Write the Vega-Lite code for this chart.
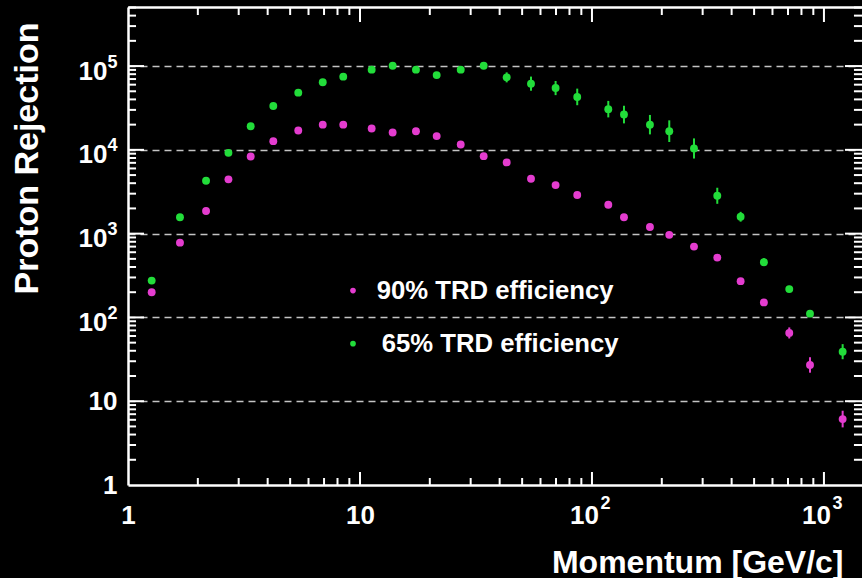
{
  "$schema": "https://vega.github.io/schema/vega-lite/v6.json",
  "width": 734,
  "height": 478,
  "autosize": {"type": "none"},
  "padding": {"left": 128, "top": 7, "right": 0, "bottom": 93},
  "background": "#000000",
  "config": {
    "view": {"stroke": null},
    "font": "Liberation Sans",
    "axis": {
      "domainColor": "#ffffff",
      "domainWidth": 2.5,
      "labelColor": "#ffffff",
      "titleColor": "#ffffff",
      "labelFont": "Liberation Sans",
      "titleFont": "Liberation Sans",
      "labelFontWeight": "bold",
      "titleFontWeight": "bold",
      "labelFontSize": 26,
      "labelFlush": false,
      "labelOverlap": false,
      "ticks": false,
      "grid": false,
      "title": null
    },
    "text": {"font": "Liberation Sans"}
  },
  "datasets": {
    "rejection": [
      {"p": 1.265, "rej": 200, "eff": "90% TRD efficiency"},
      {"p": 1.675, "rej": 781, "eff": "90% TRD efficiency"},
      {"p": 2.17, "rej": 1862, "eff": "90% TRD efficiency"},
      {"p": 2.71, "rej": 4450, "eff": "90% TRD efficiency"},
      {"p": 3.38, "rej": 8340, "eff": "90% TRD efficiency"},
      {"p": 4.23, "rej": 12700, "eff": "90% TRD efficiency"},
      {"p": 5.42, "rej": 17000, "eff": "90% TRD efficiency"},
      {"p": 6.91, "rej": 20000, "eff": "90% TRD efficiency"},
      {"p": 8.47, "rej": 20000, "eff": "90% TRD efficiency"},
      {"p": 11.23, "rej": 18000, "eff": "90% TRD efficiency"},
      {"p": 13.83, "rej": 16100, "eff": "90% TRD efficiency"},
      {"p": 17.43, "rej": 16700, "eff": "90% TRD efficiency"},
      {"p": 21.41, "rej": 14600, "eff": "90% TRD efficiency"},
      {"p": 27.18, "rej": 11600, "eff": "90% TRD efficiency"},
      {"p": 34.14, "rej": 8410, "eff": "90% TRD efficiency"},
      {"p": 42.89, "rej": 7080, "eff": "90% TRD efficiency"},
      {"p": 54.6, "rej": 4520, "eff": "90% TRD efficiency"},
      {"p": 69.7, "rej": 3800, "eff": "90% TRD efficiency"},
      {"p": 86.4, "rej": 2890, "eff": "90% TRD efficiency"},
      {"p": 117.6, "rej": 2210, "eff": "90% TRD efficiency"},
      {"p": 137.4, "rej": 1567, "eff": "90% TRD efficiency"},
      {"p": 177.8, "rej": 1202, "eff": "90% TRD efficiency"},
      {"p": 215.4, "rej": 967, "eff": "90% TRD efficiency"},
      {"p": 275.3, "rej": 700, "eff": "90% TRD efficiency"},
      {"p": 346.9, "rej": 518, "eff": "90% TRD efficiency"},
      {"p": 437.4, "rej": 271, "eff": "90% TRD efficiency"},
      {"p": 551, "rej": 151, "lo": 138, "hi": 165, "eff": "90% TRD efficiency"},
      {"p": 708.8, "rej": 65.3, "lo": 56.1, "hi": 76, "eff": "90% TRD efficiency"},
      {"p": 870.7, "rej": 27.1, "lo": 21.9, "hi": 33.5, "eff": "90% TRD efficiency"},
      {"p": 1204, "rej": 6.12, "lo": 4.87, "hi": 7.7, "eff": "90% TRD efficiency"},
      {"p": 1.265, "rej": 275, "eff": "65% TRD efficiency"},
      {"p": 1.675, "rej": 1567, "eff": "65% TRD efficiency"},
      {"p": 2.17, "rej": 4276, "eff": "65% TRD efficiency"},
      {"p": 2.71, "rej": 9210, "eff": "65% TRD efficiency"},
      {"p": 3.38, "rej": 19150, "eff": "65% TRD efficiency"},
      {"p": 4.23, "rej": 33400, "eff": "65% TRD efficiency"},
      {"p": 5.42, "rej": 48200, "eff": "65% TRD efficiency"},
      {"p": 6.91, "rej": 64000, "eff": "65% TRD efficiency"},
      {"p": 8.47, "rej": 74800, "eff": "65% TRD efficiency"},
      {"p": 11.23, "rej": 90600, "eff": "65% TRD efficiency"},
      {"p": 13.83, "rej": 101000, "eff": "65% TRD efficiency"},
      {"p": 17.43, "rej": 90600, "eff": "65% TRD efficiency"},
      {"p": 21.41, "rej": 78100, "eff": "65% TRD efficiency"},
      {"p": 27.18, "rej": 90600, "eff": "65% TRD efficiency"},
      {"p": 34.14, "rej": 101000, "lo": 93000, "hi": 109700, "eff": "65% TRD efficiency"},
      {"p": 42.89, "rej": 73300, "lo": 63900, "hi": 84100, "eff": "65% TRD efficiency"},
      {"p": 54.6, "rej": 61700, "lo": 50800, "hi": 74900, "eff": "65% TRD efficiency"},
      {"p": 69.7, "rej": 54700, "lo": 45000, "hi": 66400, "eff": "65% TRD efficiency"},
      {"p": 86.4, "rej": 42800, "lo": 34100, "hi": 53800, "eff": "65% TRD efficiency"},
      {"p": 117.6, "rej": 30600, "lo": 24400, "hi": 38400, "eff": "65% TRD efficiency"},
      {"p": 137.4, "rej": 26400, "lo": 20700, "hi": 33600, "eff": "65% TRD efficiency"},
      {"p": 177.8, "rej": 20000, "lo": 15300, "hi": 26100, "eff": "65% TRD efficiency"},
      {"p": 215.4, "rej": 16700, "lo": 12400, "hi": 22500, "eff": "65% TRD efficiency"},
      {"p": 275.3, "rej": 10400, "lo": 7880, "hi": 13700, "eff": "65% TRD efficiency"},
      {"p": 346.9, "rej": 2830, "lo": 2270, "hi": 3530, "eff": "65% TRD efficiency"},
      {"p": 437.4, "rej": 1590, "lo": 1390, "hi": 1820, "eff": "65% TRD efficiency"},
      {"p": 551, "rej": 457, "lo": 409, "hi": 510, "eff": "65% TRD efficiency"},
      {"p": 708.8, "rej": 218, "lo": 200, "hi": 238, "eff": "65% TRD efficiency"},
      {"p": 870.7, "rej": 111, "lo": 102, "hi": 121, "eff": "65% TRD efficiency"},
      {"p": 1204, "rej": 39, "lo": 31.7, "hi": 48, "eff": "65% TRD efficiency"}
    ],
    "xticks": [
      {"v": 2, "kind": "minor"}, {"v": 3, "kind": "minor"}, {"v": 4, "kind": "minor"}, {"v": 5, "kind": "minor"},
      {"v": 6, "kind": "minor"}, {"v": 7, "kind": "minor"}, {"v": 8, "kind": "minor"}, {"v": 9, "kind": "minor"},
      {"v": 10, "kind": "major"},
      {"v": 20, "kind": "minor"}, {"v": 30, "kind": "minor"}, {"v": 40, "kind": "minor"}, {"v": 50, "kind": "minor"},
      {"v": 60, "kind": "minor"}, {"v": 70, "kind": "minor"}, {"v": 80, "kind": "minor"}, {"v": 90, "kind": "minor"},
      {"v": 100, "kind": "major"},
      {"v": 200, "kind": "minor"}, {"v": 300, "kind": "minor"}, {"v": 400, "kind": "minor"}, {"v": 500, "kind": "minor"},
      {"v": 600, "kind": "minor"}, {"v": 700, "kind": "minor"}, {"v": 800, "kind": "minor"}, {"v": 900, "kind": "minor"},
      {"v": 1000, "kind": "major"}
    ],
    "yticks": [
      {"v": 2, "kind": "minor"}, {"v": 3, "kind": "minor"}, {"v": 4, "kind": "minor"}, {"v": 5, "kind": "minor"},
      {"v": 6, "kind": "minor"}, {"v": 7, "kind": "minor"}, {"v": 8, "kind": "minor"}, {"v": 9, "kind": "minor"},
      {"v": 10, "kind": "major"},
      {"v": 20, "kind": "minor"}, {"v": 30, "kind": "minor"}, {"v": 40, "kind": "minor"}, {"v": 50, "kind": "minor"},
      {"v": 60, "kind": "minor"}, {"v": 70, "kind": "minor"}, {"v": 80, "kind": "minor"}, {"v": 90, "kind": "minor"},
      {"v": 100, "kind": "major"},
      {"v": 200, "kind": "minor"}, {"v": 300, "kind": "minor"}, {"v": 400, "kind": "minor"}, {"v": 500, "kind": "minor"},
      {"v": 600, "kind": "minor"}, {"v": 700, "kind": "minor"}, {"v": 800, "kind": "minor"}, {"v": 900, "kind": "minor"},
      {"v": 1000, "kind": "major"},
      {"v": 2000, "kind": "minor"}, {"v": 3000, "kind": "minor"}, {"v": 4000, "kind": "minor"}, {"v": 5000, "kind": "minor"},
      {"v": 6000, "kind": "minor"}, {"v": 7000, "kind": "minor"}, {"v": 8000, "kind": "minor"}, {"v": 9000, "kind": "minor"},
      {"v": 10000, "kind": "major"},
      {"v": 20000, "kind": "minor"}, {"v": 30000, "kind": "minor"}, {"v": 40000, "kind": "minor"}, {"v": 50000, "kind": "minor"},
      {"v": 60000, "kind": "minor"}, {"v": 70000, "kind": "minor"}, {"v": 80000, "kind": "minor"}, {"v": 90000, "kind": "minor"},
      {"v": 100000, "kind": "major"},
      {"v": 200000, "kind": "minor"}, {"v": 300000, "kind": "minor"}, {"v": 400000, "kind": "minor"}, {"v": 500000, "kind": "minor"}
    ]
  },
  "data": {"name": "rejection"},
  "resolve": {"axis": {"x": "independent", "y": "independent"}},
  "layer": [
    {
      "mark": {"type": "point", "opacity": 0},
      "encoding": {
        "x": {"field": "p", "type": "quantitative",
          "scale": {"type": "log", "domain": [1, 1459], "nice": false},
          "axis": {"orient": "bottom", "values": [100, 1000], "domain": false, "labelPadding": 17, "labelOffset": -8,
            "labelExpr": "'10'"}},
        "y": {"field": "rej", "type": "quantitative",
          "scale": {"type": "log", "domain": [1, 507000], "nice": false},
          "axis": {"orient": "left", "values": [10, 100, 1000, 10000, 100000], "domain": false, "labels": false,
            "grid": true, "gridColor": "#c4c4c4", "gridDash": [7, 5], "gridWidth": 1.6}}
      }
    },
    {
      "mark": {"type": "point", "opacity": 0},
      "encoding": {
        "x": {"field": "p", "type": "quantitative",
          "scale": {"type": "log", "domain": [1, 1459], "nice": false},
          "axis": {"orient": "bottom", "values": [100, 1000], "domain": false, "labelPadding": 9, "labelOffset": 13, "labelFontSize": 18,
            "labelExpr": "datum.value == 100 ? '2' : '3'"}},
        "y": {"field": "rej", "type": "quantitative",
          "scale": {"type": "log", "domain": [1, 507000], "nice": false},
          "axis": {"orient": "left", "values": [100, 1000, 10000, 100000], "domain": false, "labelPadding": 11, "labelOffset": -4, "labelFontSize": 18,
            "labelExpr": "datum.value == 100 ? '2' : datum.value == 1000 ? '3' : datum.value == 10000 ? '4' : '5'"}}
      }
    },
    {
      "mark": {"type": "point", "opacity": 0},
      "encoding": {
        "x": {"field": "p", "type": "quantitative",
          "scale": {"type": "log", "domain": [1, 1459], "nice": false},
          "axis": {"orient": "bottom", "values": [1, 10], "domain": true, "labelPadding": 17,
            "labelExpr": "datum.value == 1 ? '1' : '10'",
            "title": "Momentum [GeV/c]", "titleFontSize": 32, "titleAlign": "right", "titleBaseline": "alphabetic", "titleX": 715, "titleY": 87}},
        "y": {"field": "rej", "type": "quantitative",
          "scale": {"type": "log", "domain": [1, 507000], "nice": false},
          "axis": {"orient": "left", "values": [100, 1000, 10000, 100000], "domain": false, "labelPadding": 21, "labelOffset": 5,
            "labelExpr": "'10'"}}
      }
    },
    {
      "data": {"name": "xticks"},
      "transform": [{"filter": "datum.kind == 'major'"}],
      "mark": {"type": "rule", "color": "#ffffff", "strokeWidth": 2},
      "encoding": {
        "x": {"field": "v", "type": "quantitative", "scale": {"type": "log", "domain": [1, 1459], "nice": false}, "axis": null},
        "y": {"datum": 1, "type": "quantitative", "scale": {"type": "log", "domain": [1, 507000], "nice": false}, "axis": null},
        "y2": {"datum": 1.43}
      }
    },
    {
      "data": {"name": "xticks"},
      "transform": [{"filter": "datum.kind == 'minor'"}],
      "mark": {"type": "rule", "color": "#ffffff", "strokeWidth": 2},
      "encoding": {
        "x": {"field": "v", "type": "quantitative", "scale": {"type": "log", "domain": [1, 1459], "nice": false}, "axis": null},
        "y": {"datum": 1, "type": "quantitative", "scale": {"type": "log", "domain": [1, 507000], "nice": false}, "axis": null},
        "y2": {"datum": 1.212}
      }
    },
    {
      "data": {"name": "xticks"},
      "transform": [{"filter": "datum.kind == 'major'"}],
      "mark": {"type": "rule", "color": "#ffffff", "strokeWidth": 2},
      "encoding": {
        "x": {"field": "v", "type": "quantitative", "scale": {"type": "log", "domain": [1, 1459], "nice": false}, "axis": null},
        "y": {"datum": 507000, "type": "quantitative", "scale": {"type": "log", "domain": [1, 507000], "nice": false}, "axis": null},
        "y2": {"datum": 335700}
      }
    },
    {
      "data": {"name": "xticks"},
      "transform": [{"filter": "datum.kind == 'minor'"}],
      "mark": {"type": "rule", "color": "#ffffff", "strokeWidth": 2},
      "encoding": {
        "x": {"field": "v", "type": "quantitative", "scale": {"type": "log", "domain": [1, 1459], "nice": false}, "axis": null},
        "y": {"datum": 507000, "type": "quantitative", "scale": {"type": "log", "domain": [1, 507000], "nice": false}, "axis": null},
        "y2": {"datum": 406900}
      }
    },
    {
      "data": {"name": "yticks"},
      "transform": [{"filter": "datum.kind == 'major'"}],
      "mark": {"type": "rule", "color": "#ffffff", "strokeWidth": 2},
      "encoding": {
        "y": {"field": "v", "type": "quantitative", "scale": {"type": "log", "domain": [1, 507000], "nice": false}, "axis": null},
        "x": {"datum": 1, "type": "quantitative", "scale": {"type": "log", "domain": [1, 1459], "nice": false}, "axis": null},
        "x2": {"datum": 1.172}
      }
    },
    {
      "data": {"name": "yticks"},
      "transform": [{"filter": "datum.kind == 'minor'"}],
      "mark": {"type": "rule", "color": "#ffffff", "strokeWidth": 2},
      "encoding": {
        "y": {"field": "v", "type": "quantitative", "scale": {"type": "log", "domain": [1, 507000], "nice": false}, "axis": null},
        "x": {"datum": 1, "type": "quantitative", "scale": {"type": "log", "domain": [1, 1459], "nice": false}, "axis": null},
        "x2": {"datum": 1.083}
      }
    },
    {
      "data": {"name": "yticks"},
      "transform": [{"filter": "datum.kind == 'major'"}],
      "mark": {"type": "rule", "color": "#ffffff", "strokeWidth": 2},
      "encoding": {
        "y": {"field": "v", "type": "quantitative", "scale": {"type": "log", "domain": [1, 507000], "nice": false}, "axis": null},
        "x": {"datum": 1459, "type": "quantitative", "scale": {"type": "log", "domain": [1, 1459], "nice": false}, "axis": null},
        "x2": {"datum": 1232}
      }
    },
    {
      "data": {"name": "yticks"},
      "transform": [{"filter": "datum.kind == 'minor'"}],
      "mark": {"type": "rule", "color": "#ffffff", "strokeWidth": 2},
      "encoding": {
        "y": {"field": "v", "type": "quantitative", "scale": {"type": "log", "domain": [1, 507000], "nice": false}, "axis": null},
        "x": {"datum": 1459, "type": "quantitative", "scale": {"type": "log", "domain": [1, 1459], "nice": false}, "axis": null},
        "x2": {"datum": 1347}
      }
    },
    {
      "transform": [{"filter": "datum.lo != null"}],
      "mark": {"type": "rule", "strokeWidth": 2},
      "encoding": {
        "x": {"field": "p", "type": "quantitative",
          "scale": {"type": "log", "domain": [1, 1459], "nice": false},
          "axis": {"orient": "top", "labels": false, "domain": true}},
        "y": {"field": "lo", "type": "quantitative",
          "scale": {"type": "log", "domain": [1, 507000], "nice": false},
          "axis": {"orient": "left", "values": [1, 10], "domain": true, "labelPadding": 11,
            "labelExpr": "datum.value == 1 ? '1' : '10'",
            "title": "Proton Rejection", "titleFontSize": 34, "titleAngle": 270, "titleAlign": "right", "titleBaseline": "alphabetic", "titleX": -91, "titleY": 15}},
        "y2": {"field": "hi"},
        "stroke": {"field": "eff", "type": "nominal",
          "scale": {"domain": ["90% TRD efficiency", "65% TRD efficiency"], "range": ["#e43ccf", "#22dd3a"]},
          "legend": null}
      }
    },
    {
      "mark": {"type": "point", "filled": true, "shape": "circle", "size": 62, "opacity": 1},
      "encoding": {
        "x": {"field": "p", "type": "quantitative",
          "scale": {"type": "log", "domain": [1, 1459], "nice": false}, "axis": null},
        "y": {"field": "rej", "type": "quantitative",
          "scale": {"type": "log", "domain": [1, 507000], "nice": false}, "axis": null},
        "color": {"field": "eff", "type": "nominal",
          "scale": {"domain": ["90% TRD efficiency", "65% TRD efficiency"], "range": ["#e43ccf", "#22dd3a"]},
          "legend": null}
      }
    },
    {
      "data": {"values": [{"eff": "90% TRD efficiency"}]},
      "encoding": {
        "y": {"datum": 209, "type": "quantitative",
          "scale": {"type": "log", "domain": [1, 507000], "nice": false}, "axis": null},
        "color": {"field": "eff", "type": "nominal",
          "scale": {"domain": ["90% TRD efficiency", "65% TRD efficiency"], "range": ["#e43ccf", "#22dd3a"]},
          "legend": null}
      },
      "layer": [
        {
          "mark": {"type": "point", "filled": true, "shape": "circle", "size": 32, "opacity": 1},
          "encoding": {"x": {"datum": 9.33, "type": "quantitative",
            "scale": {"type": "log", "domain": [1, 1459], "nice": false}, "axis": null}}
        },
        {
          "mark": {"type": "text", "align": "left", "baseline": "middle", "fontSize": 25.7, "fontWeight": "bold"},
          "encoding": {"x": {"datum": 11.8, "type": "quantitative",
            "scale": {"type": "log", "domain": [1, 1459], "nice": false}, "axis": null},
            "text": {"field": "eff"}, "color": {"value": "#ffffff"}}
        }
      ]
    },
    {
      "data": {"values": [{"eff": "65% TRD efficiency"}]},
      "encoding": {
        "y": {"datum": 48.6, "type": "quantitative",
          "scale": {"type": "log", "domain": [1, 507000], "nice": false}, "axis": null},
        "color": {"field": "eff", "type": "nominal",
          "scale": {"domain": ["90% TRD efficiency", "65% TRD efficiency"], "range": ["#e43ccf", "#22dd3a"]},
          "legend": null}
      },
      "layer": [
        {
          "mark": {"type": "point", "filled": true, "shape": "circle", "size": 32, "opacity": 1},
          "encoding": {"x": {"datum": 9.33, "type": "quantitative",
            "scale": {"type": "log", "domain": [1, 1459], "nice": false}, "axis": null}}
        },
        {
          "mark": {"type": "text", "align": "left", "baseline": "middle", "fontSize": 25.7, "fontWeight": "bold"},
          "encoding": {"x": {"datum": 12.4, "type": "quantitative",
            "scale": {"type": "log", "domain": [1, 1459], "nice": false}, "axis": null},
            "text": {"field": "eff"}, "color": {"value": "#ffffff"}}
        }
      ]
    }
  ]
}
